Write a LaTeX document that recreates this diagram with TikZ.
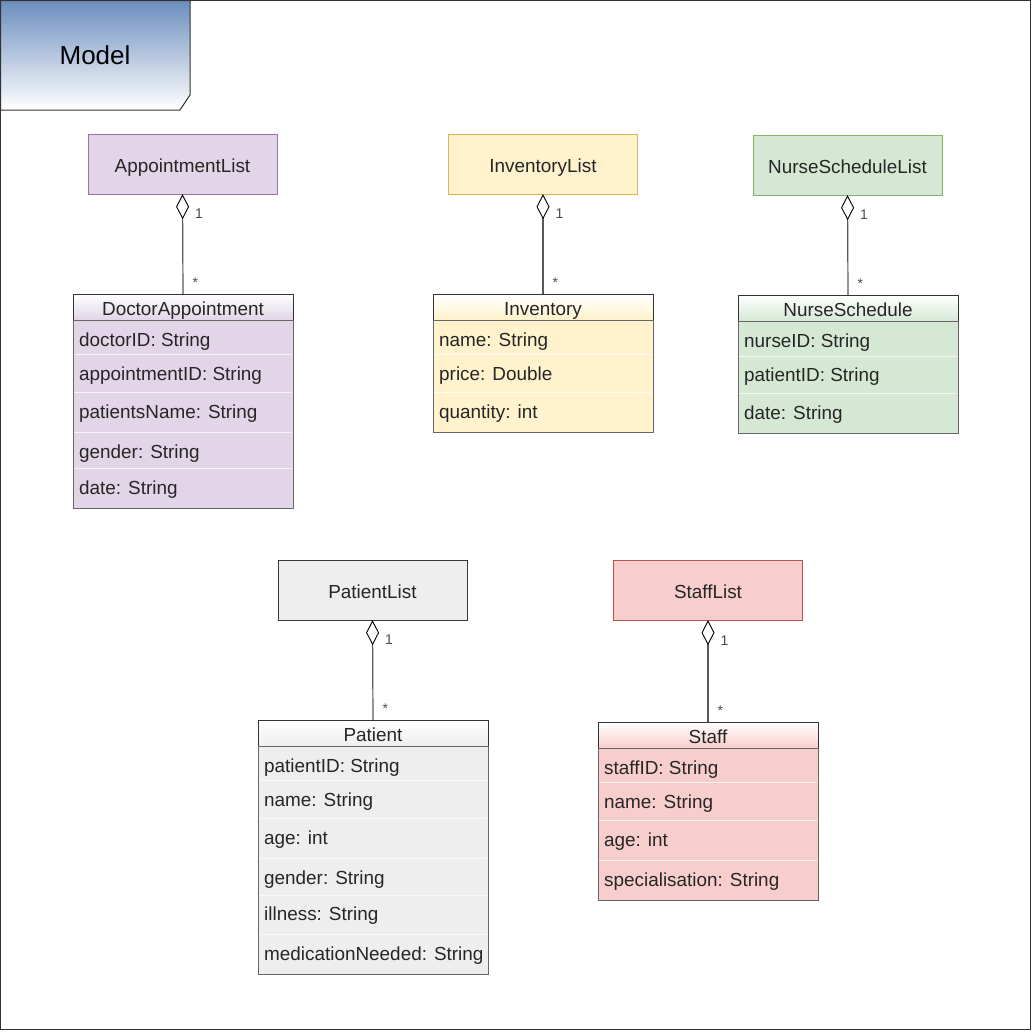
\documentclass[tikz,border=0pt]{standalone}
\usepackage{fontspec}
\setmainfont{Liberation Sans}
\usetikzlibrary{arrows.meta}
\definecolor{purplefill}{HTML}{E1D5E7}\definecolor{purpledraw}{HTML}{9673A6}
\definecolor{yellowfill}{HTML}{FFF2CC}\definecolor{yellowdraw}{HTML}{D6B656}
\definecolor{greenfill}{HTML}{D5E8D4}\definecolor{greendraw}{HTML}{82B366}
\definecolor{greyfill}{HTML}{EEEEEE}\definecolor{greydraw}{HTML}{36393D}
\definecolor{redfill}{HTML}{F8CECC}\definecolor{reddraw}{HTML}{B85450}
\definecolor{tabblue}{HTML}{6C8EBF}
\begin{document}
\begin{tikzpicture}[x=1pt,y=-1pt,
    txt/.style={font=\fontsize{18.9}{22}\selectfont, text=black!85, text height=20pt, text depth=4pt},
    listbox/.style={txt, draw, minimum width=189pt, minimum height=60pt, inner sep=0pt},
    classhead/.style={txt, draw=black!80, minimum height=26pt, inner sep=0pt, top color=white},
    classbody/.style={draw=black!60, anchor=north, inner sep=0pt},
    field/.style={txt, anchor=west, inner sep=0pt},
    sep/.style={white, line width=0.8pt, opacity=0.7, shorten <=1pt, shorten >=1pt},
    agg/.style={draw=black!65, line width=1.2pt,
      -{Diamond[length=25pt, width=13pt, color=black, fill=white, line width=0.9pt]}},
    mult/.style={font=\fontsize{14}{16}\selectfont, text=black!70, inner sep=0pt}]
  \useasboundingbox (0,0) rectangle (1032,1031);
  \draw[black!80, line width=1pt] (0.5,0.5) rectangle (1030.5,1029.5);

  % package tab
  \draw[black!80, line width=1pt, top color=tabblue, bottom color=white]
    (0.5,0.5) -- (190,0.5) -- (190,95) -- (180,110) -- (0.5,110) -- cycle;
  \node[font=\fontsize{26}{30}\selectfont] (model) at (95,55) {Model};

  % appointments
  \node[listbox, fill=purplefill, draw=purpledraw] (applist) at (182.5,164) {AppointmentList};
  \node[classhead, minimum width=220pt, bottom color=purplefill] (docapp) at (183,307) {DoctorAppointment};
  \node[classbody, minimum width=220pt, minimum height=188pt, fill=purplefill] (docbody) at (docapp.south) {};
  \foreach \y in {354,392,432,468}
    \draw[sep] (docbody.west |- 0,\y) -- (docbody.east |- 0,\y);
  \foreach \y/\t [count=\i] in {338/doctorID: String, 372/appointmentID: String,
      410/patientsName: String, 450/gender: String, 486/date: String}
    \node[field] (docf\i) at (79,\y) {\t};
  \draw[agg] (docapp.north) -- node[mult, pos=0.11, right=9pt] (docmany) {*}
    node[mult, pos=0.8, right=12pt] (docone) {1} (applist.south);

  % inventory
  \node[listbox, fill=yellowfill, draw=yellowdraw] (invlist) at (543,164) {InventoryList};
  \node[classhead, minimum width=220pt, bottom color=yellowfill] (inv) at (543,307) {Inventory};
  \node[classbody, minimum width=220pt, minimum height=112pt, fill=yellowfill] (invbody) at (inv.south) {};
  \foreach \y in {354,392}
    \draw[sep] (invbody.west |- 0,\y) -- (invbody.east |- 0,\y);
  \foreach \y/\t [count=\i] in {338/name: String, 372/price: Double, 410/quantity: int}
    \node[field] (invf\i) at (439,\y) {\t};
  \draw[agg] (inv.north) -- node[mult, pos=0.11, right=9pt] (invmany) {*}
    node[mult, pos=0.8, right=12pt] (invone) {1} (invlist.south);

  % nurse schedules
  \node[listbox, fill=greenfill, draw=greendraw] (nurselist) at (847.5,165) {NurseScheduleList};
  \node[classhead, minimum width=220pt, bottom color=greenfill] (nurse) at (848,308) {NurseSchedule};
  \node[classbody, minimum width=220pt, minimum height=112pt, fill=greenfill] (nursebody) at (nurse.south) {};
  \foreach \y in {356,393}
    \draw[sep] (nursebody.west |- 0,\y) -- (nursebody.east |- 0,\y);
  \foreach \y/\t [count=\i] in {339/nurseID: String, 373/patientID: String, 411/date: String}
    \node[field] (nursef\i) at (744,\y) {\t};
  \draw[agg] (nurse.north) -- node[mult, pos=0.11, right=9pt] (nursemany) {*}
    node[mult, pos=0.8, right=12pt] (nurseone) {1} (nurselist.south);

  % patients
  \node[listbox, fill=greyfill, draw=greydraw] (patlist) at (372.5,590) {PatientList};
  \node[classhead, minimum width=230pt, bottom color=greyfill] (pat) at (373,733) {Patient};
  \node[classbody, minimum width=230pt, minimum height=228pt, fill=greyfill] (patbody) at (pat.south) {};
  \foreach \y in {780,818,858,895,934}
    \draw[sep] (patbody.west |- 0,\y) -- (patbody.east |- 0,\y);
  \foreach \y/\t [count=\i] in {764/patientID: String, 798/name: String, 836/age: int,
      876/gender: String, 912/illness: String, 952/medicationNeeded: String}
    \node[field] (patf\i) at (264,\y) {\t};
  \draw[agg] (pat.north) -- node[mult, pos=0.11, right=9pt] (patmany) {*}
    node[mult, pos=0.8, right=12pt] (patone) {1} (patlist.south);

  % staff
  \node[listbox, fill=redfill, draw=reddraw] (stafflist) at (708,590) {StaffList};
  \node[classhead, minimum width=220pt, bottom color=redfill] (staff) at (708,735) {Staff};
  \node[classbody, minimum width=220pt, minimum height=152pt, fill=redfill] (staffbody) at (staff.south) {};
  \foreach \y in {782,820,860}
    \draw[sep] (staffbody.west |- 0,\y) -- (staffbody.east |- 0,\y);
  \foreach \y/\t [count=\i] in {766/staffID: String, 800/name: String, 838/age: int,
      878/specialisation: String}
    \node[field] (stafff\i) at (604,\y) {\t};
  \draw[agg] (staff.north) -- node[mult, pos=0.11, right=9pt] (staffmany) {*}
    node[mult, pos=0.8, right=12pt] (staffone) {1} (stafflist.south);
\end{tikzpicture}
\end{document}
